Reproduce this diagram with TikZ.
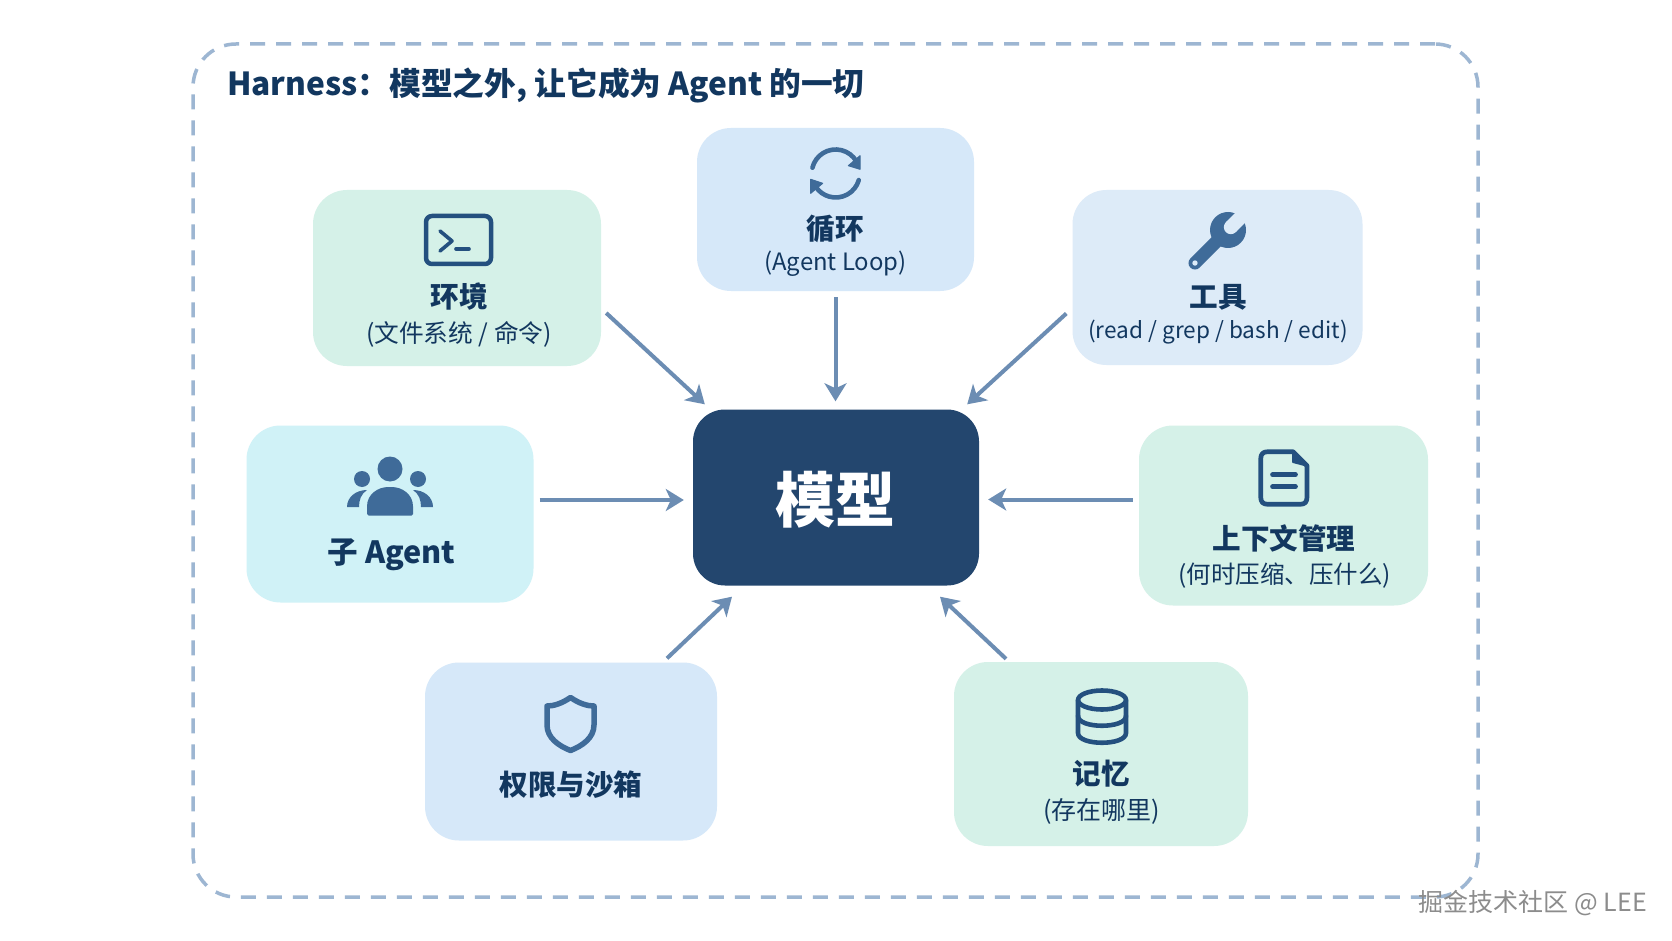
\documentclass[tikz,border=0pt]{standalone}
\usepackage{fontspec}
\setmainfont{Noto Sans CJK SC}
\usetikzlibrary{arrows.meta,calc}
\definecolor{navy}{HTML}{12375F}
\definecolor{modelc}{HTML}{23466E}
\definecolor{iconc}{HTML}{3F6B99}
\definecolor{icond}{HTML}{24507F}
\definecolor{arrowc}{HTML}{6C8DB3}
\definecolor{dashc}{HTML}{9DB6D2}
\definecolor{greenc}{HTML}{D5F1E8}
\definecolor{bluec}{HTML}{D6E8F9}
\definecolor{cyanc}{HTML}{D0F2F7}
\definecolor{paleb}{HTML}{DDEBF8}
\tikzset{
  card/.style={rounded corners=34pt,inner sep=0pt,draw=none},
  flow/.style={draw=arrowc,line width=4pt,-{Stealth[length=18pt,width=22pt,inset=5pt]}},
  head/.style={text=navy,font=\fontsize{28.6}{30}\selectfont\bfseries,inner sep=0pt},
  ico/.style={draw=iconc,line width=5pt,line join=round,line cap=round},
  icod/.style={draw=icond,line width=4.7pt,line join=round,line cap=round},
  icof/.style={fill=iconc,draw=none},
  txts/.style={text=navy,inner sep=0pt},
}
\newcommand{\szs}[1]{\fontsize{#1}{26}\selectfont}
\begin{document}
\begin{tikzpicture}[x=1pt,y=-1pt]
\useasboundingbox (0,0) rectangle (1672,941);
\fill[white] (0,0) rectangle (1672,941);
\node[draw=dashc,line width=3.5pt,rounded corners=43pt,dash pattern=on 15pt off 11pt,minimum width=1285pt,minimum height=853pt,inner sep=0pt] (frame) at (835.5,470.5) {};
\node[anchor=west,text=navy,inner sep=0pt,font=\fontsize{31.7}{34}\selectfont\bfseries] (title) at (227,85.5) {Harness：模型之外, 让它成为 Agent 的一切};
% cards
\node[card,fill=bluec,minimum width=277pt,minimum height=163pt] (loop) at (835.5,209.5) {};
\node[card,fill=greenc,minimum width=288pt,minimum height=176pt] (env) at (457,278) {};
\node[card,fill=paleb,minimum width=290pt,minimum height=175pt] (tools) at (1217.5,277.5) {};
\node[card,fill=cyanc,minimum width=287pt,minimum height=177pt] (sub) at (390,514) {};
\node[card,fill=greenc,minimum width=289pt,minimum height=180pt] (ctx) at (1283.5,515.5) {};
\node[card,fill=bluec,minimum width=292pt,minimum height=178pt] (perm) at (571,751.5) {};
\node[card,fill=greenc,minimum width=294pt,minimum height=184pt] (mem) at (1101,754) {};
\node[rounded corners=32pt,fill=modelc,minimum width=286pt,minimum height=176pt,inner sep=0pt] (model) at (836,497.5) {};
\node[inner sep=0pt,text=white,font=\fontsize{60}{62}\selectfont\bfseries] (modelT) at (835.5,500) {模型};
% labels
\node[head] (loopT) at (835.5,229) {循环};
\node[txts,font=\szs{23.9}] (loopS) at (835.5,264) {(Agent Loop)};
\node[head] (envT) at (459,296.5) {环境};
\node[txts,font=\szs{24.7}] (envS) at (459,334) {(文件系统 / 命令)};
\node[head] (toolsT) at (1218,297) {工具};
\node[txts,font=\szs{22.6}] (toolsS) at (1218,332) {(read / grep / bash / edit)};
\node[text=navy,inner sep=0pt,font=\fontsize{30.6}{32}\selectfont\bfseries] (subT) at (391.5,555) {子 Agent};
\node[head] (ctxT) at (1284,538) {上下文管理};
\node[txts,font=\szs{24.5}] (ctxS) at (1284.5,576) {(何时压缩、压什么)};
\node[head] (permT) at (571,785) {权限与沙箱};
\node[head] (memT) at (1101.5,774) {记忆};
\node[txts,font=\szs{25}] (memS) at (1101.5,811) {(存在哪里)};
% connectors
\draw[flow] ($(env.east)+(5,35)$) -- ($(model.north west)+(12,-5)$);
\draw[flow] ($(loop.south)+(0,6)$) -- ($(model.north)+(-0.5,-8)$);
\draw[flow] ($(tools.west)+(-6,36)$) -- ($(model.north east)+(-12,-5)$);
\draw[flow] ($(sub.east)+(6,-14)$) -- ($(model.west)+(-9,2.5)$);
\draw[flow] ($(ctx.west)+(-6,-16)$) -- ($(model.east)+(9,2)$);
\draw[flow] ($(perm.north)+(96,-4)$) -- ($(model.south)+(-104,11)$);
\draw[flow] ($(mem.north)+(-95,-3)$) -- ($(model.south)+(104,11)$);
% loop icon
\draw[ico,line width=4.6pt] (835.7,173.5) ++(194:24) arc[start angle=194,end angle=330,radius=24];
\draw[ico,line width=4.6pt] (835.7,173.5) ++(16:24) arc[start angle=16,end angle=145,radius=24];
\fill[iconc,draw=iconc,line width=1pt,line join=round] (860,155.7) -- (860,169.3) -- (848.3,165.7) -- cycle;
\fill[iconc,draw=iconc,line width=1pt,line join=round] (810.7,179.3) -- (810.7,193.3) -- (822.7,183.3) -- cycle;
% terminal icon
\draw[icod,line width=4.5pt,rounded corners=6pt] (426,216) rectangle (491,264);
\draw[icod,line width=3.6pt] (440,231) -- (452,241) -- (440,251);
\draw[icod,line width=3.6pt] (456,249) -- (469,249);
% wrench icon
\begin{scope}[shift={(1228,230)},rotate=-45]
\draw[iconc,line width=13pt,line cap=round] (0,14) -- (0,46.7);
\fill[iconc] (0,0) circle[radius=18];
\fill[paleb] (-7,-22) rectangle (7,-4);
\fill[paleb] (0,-4) circle[radius=7];
\fill[paleb] (0,46.7) circle[radius=2.7];
\end{scope}
% people icon
\fill[icof] (390,469) circle[radius=12.5];
\fill[icof] (362,479) circle[radius=8];
\fill[icof] (418,479) circle[radius=8];
\fill[icof,rounded corners=1.5pt] (367,515.5) -- (367,508) .. controls (367,494) and (378,487) .. (390,487) .. controls (402,487) and (413,494) .. (413,508) -- (413,515.5) -- cycle;
\fill[icof] (347,507) .. controls (347,497) and (356,490) .. (367,490) .. controls (361,494) and (359,500) .. (359,507) -- cycle;
\fill[icof] (433,507) .. controls (433,497) and (424,490) .. (413,490) .. controls (419,494) and (421,500) .. (421,507) -- cycle;
% doc icon
\draw[icod] (1293,451.7) -- (1268,451.7) .. controls (1263,451.7) and (1260.7,454) .. (1260.7,459) -- (1260.7,497) .. controls (1260.7,502) and (1263,504.3) .. (1268,504.3) -- (1300,504.3) .. controls (1305,504.3) and (1307,502) .. (1307,497) -- (1307,465.7) -- cycle;
\fill[icond,draw=icond,line width=2pt,line join=round] (1293,451.7) -- (1293,462) -- (1307,465.7) -- cycle;
\draw[icod] (1272.5,474.7) -- (1295.5,474.7);
\draw[icod] (1272.5,486.7) -- (1295.5,486.7);
% shield icon
\draw[ico,line width=5.5pt,line cap=butt] (570.5,697.5) .. controls (580,704) and (588,706) .. (594,706) -- (594,725) .. controls (594,738) and (582,746) .. (570.5,750.5) .. controls (559,746) and (547,738) .. (547,725) -- (547,706) .. controls (553,706) and (561,704) .. (570.5,697.5) -- cycle;
% database icon
\draw[icod,line width=4.6pt] (1102,700) ellipse[x radius=24,y radius=9.5];
\draw[icod,line width=4.6pt] (1078,700) -- (1078,733) .. controls (1078,746) and (1126,746) .. (1126,733) -- (1126,700);
\draw[icod,line width=4.6pt] (1078,716) .. controls (1078,729) and (1126,729) .. (1126,716);
% watermark
\node[anchor=east,inner sep=0pt,text=black!45,font=\fontsize{25}{26}\selectfont] (mark) at (1647,903) {掘金技术社区 @ LEE};
\end{tikzpicture}
\end{document}
